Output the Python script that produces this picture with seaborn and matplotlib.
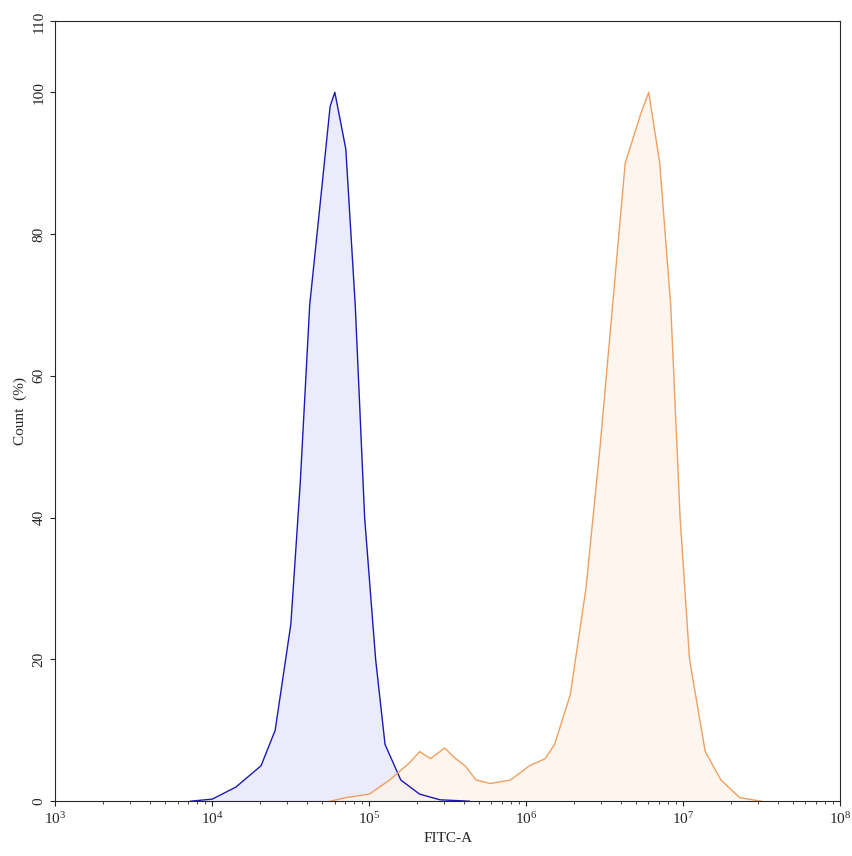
import numpy as np
import matplotlib
matplotlib.use("Agg")
import matplotlib.pyplot as plt
import seaborn as sns
from matplotlib.ticker import LogLocator, NullFormatter

sns.set_style("ticks")
plt.rcParams['font.family'] = ['Liberation Serif', 'DejaVu Serif']

blue_logx = [3.86, 4.0, 4.15, 4.31, 4.4, 4.5, 4.56, 4.62, 4.69, 4.75, 4.78, 4.85, 4.91, 4.97, 5.04, 5.1, 5.2, 5.32, 5.45, 5.64]
blue_y = [0, 0.3, 2, 5, 10, 25, 45, 70, 85, 98, 100, 92, 70, 40, 20, 8, 3, 1, 0.2, 0]
orange_logx = [4.75, 4.85, 5.0, 5.13, 5.26, 5.32, 5.39, 5.48, 5.55, 5.61, 5.68, 5.77, 5.9, 6.02, 6.12, 6.18, 6.28, 6.38, 6.47, 6.57, 6.63, 6.73, 6.78, 6.85, 6.92, 6.98, 7.04, 7.14, 7.24, 7.36, 7.5]
orange_y = [0, 0.5, 1, 3, 5.5, 7, 6, 7.5, 6, 5, 3, 2.5, 3, 5, 6, 8, 15, 30, 50, 75, 90, 97, 100, 90, 70, 40, 20, 7, 3, 0.5, 0]

fig, ax = plt.subplots(figsize=(8.53, 8.56), dpi=100)
fig.subplots_adjust(left=0.065, right=0.985, top=0.975, bottom=0.064)

for lx, y, lc, fc in [(blue_logx, blue_y, "#1a1ab4", "#e6e6fa"), (orange_logx, orange_y, "#f0a060", "#fdf3ea")]:
    x = 10 ** np.array(lx)
    sns.lineplot(x=x, y=y, ax=ax, color=lc, lw=1, sort=False)
    ax.fill_between(x, y, color=fc, alpha=0.8, lw=0)

ax.set_xscale("log")
ax.set_xlim(1e3, 1e8)
ax.set_ylim(0, 110)
ax.set_xticks([1e3, 1e4, 1e5, 1e6, 1e7, 1e8])
ax.xaxis.set_minor_locator(LogLocator(base=10, subs=np.arange(2, 10), numticks=20))
ax.xaxis.set_minor_formatter(NullFormatter())
ax.set_yticks(range(0, 111, 20) if False else [0, 20, 40, 60, 80, 100, 110])
for lab in ax.get_yticklabels():
    lab.set_rotation(90)
    lab.set_va("center")
ax.tick_params(labelsize=11)
ax.set_xlabel("FITC-A", fontsize=11)
ax.set_ylabel("Count  (%)", fontsize=11)
for s in ax.spines.values():
    s.set_visible(True)
    s.set_linewidth(0.8)
fig.savefig("out.png")
